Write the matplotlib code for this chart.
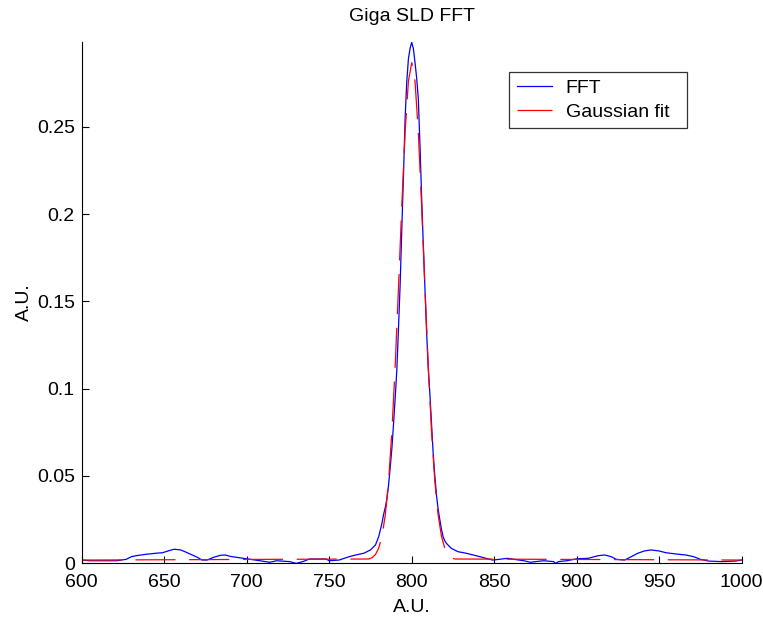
import numpy as np
import matplotlib
matplotlib.use('Agg')
import matplotlib.pyplot as plt

plt.rcParams['font.family'] = ['Liberation Sans', 'DejaVu Sans']

# FFT trace
fft_x = [600, 605, 621, 627, 630, 633, 639, 645, 649, 653, 656, 660, 663, 667,
         670, 673, 676, 680, 684, 687, 690, 698, 708, 714, 718, 726, 730, 734,
         738, 748, 750, 756, 762, 766, 771, 775, 778, 780,
         781, 782, 783, 784, 785, 786, 787, 788, 789, 790, 791, 792, 793, 794,
         795, 796, 797, 798, 799, 800, 801, 802, 803, 804, 805, 806, 807, 808,
         809, 810, 811, 812, 813, 814, 815, 816, 817, 818, 819, 820, 821,
         824, 828, 833, 839, 845, 849, 853, 858, 862, 868, 872, 875, 880, 886,
         887, 889, 894, 900, 907, 913, 917, 921, 924, 929, 933, 937, 941, 945,
         950, 954, 960, 966, 971, 975, 980, 988, 996, 1000]
fft_y = [0.0017, 0.0013, 0.0013, 0.0021, 0.0036, 0.0042, 0.0050, 0.0056, 0.0059,
         0.0071, 0.0079, 0.0075, 0.0063, 0.0046, 0.0033, 0.0017, 0.0017, 0.0033,
         0.0044, 0.0046, 0.0038, 0.0027, 0.0013, 0.0004, 0.0013, 0.0008, -0.0002,
         0.0008, 0.0023, 0.0023, 0.0013, 0.0017, 0.0036, 0.0046, 0.0056, 0.0075,
         0.0103, 0.0151,
         0.019, 0.023, 0.028, 0.032, 0.037, 0.045, 0.055, 0.066, 0.080, 0.095,
         0.111, 0.135, 0.160, 0.192, 0.222, 0.255, 0.276, 0.289, 0.295, 0.2985,
         0.295, 0.287, 0.278, 0.266, 0.240, 0.210, 0.183, 0.158, 0.133, 0.112,
         0.097, 0.080, 0.063, 0.050, 0.039, 0.031, 0.025, 0.0195, 0.0151, 0.0128,
         0.0113,
         0.0084, 0.0065, 0.0056, 0.0042, 0.0027, 0.0017, 0.0021, 0.0027, 0.0021,
         0.0013, 0.0004, 0.0008, 0.0013, 0.0008, -0.0002, 0.0008, 0.0013, 0.0024,
         0.0027, 0.0042, 0.0046, 0.0036, 0.0021, 0.0017, 0.0036, 0.0056, 0.0069,
         0.0075, 0.0069, 0.0059, 0.0052, 0.0046, 0.0036, 0.0021, 0.0011, 0.0008,
         0.0011, 0.0017]

# Gaussian fit trace
fit_x = [600, 774, 776, 778, 780, 782, 784, 786, 788, 790, 792, 794, 796, 798,
         800, 802, 804, 806, 808, 810, 812, 814, 816, 818, 820, 822, 824, 826, 1000]
fit_y = [0.0017, 0.0023, 0.0031, 0.0048, 0.0085, 0.0155, 0.0276, 0.0471, 0.0756,
         0.1133, 0.1582, 0.2051, 0.2471, 0.2763, 0.2868, 0.2763, 0.2471, 0.2051,
         0.1582, 0.1133, 0.0756, 0.0471, 0.0276, 0.0155, 0.0085, 0.0048, 0.0031,
         0.0023, 0.0017]

fig = plt.figure(figsize=(7.63, 6.17), dpi=100)
ax = fig.add_axes([0.1071, 0.0875, 0.865, 0.8444])

ax.plot(fft_x, fft_y, color='#0000ff', lw=0.9, label='FFT')
ax.plot(fit_x, fit_y, color='#ff0000', lw=0.9, dashes=(32, 11), label='Gaussian fit')

ax.set_xlim(600, 1000)
ax.set_ylim(0, 0.2987)
ax.set_xticks(np.arange(600, 1001, 50))
ax.set_yticks([0, 0.05, 0.1, 0.15, 0.2, 0.25])
ax.set_yticklabels(['0', '0.05', '0.1', '0.15', '0.2', '0.25'])
ax.tick_params(direction='in', length=5, labelsize=14, width=0.8)
ax.tick_params(axis='x', pad=8)
ax.tick_params(axis='y', pad=5)
ax.spines['top'].set_visible(False)
ax.spines['right'].set_visible(False)
ax.set_title('Giga SLD FFT', fontsize=14, pad=15)
ax.set_xlabel('A.U.', fontsize=14, labelpad=6)
ax.set_ylabel('A.U.', fontsize=14, labelpad=3)

# legend box spans about 178 px wide in the reference
leg = ax.legend(loc='upper left', bbox_to_anchor=(0.648, 0.943, 0.2697, 0.0),
                mode='expand', borderaxespad=0, fancybox=False, fontsize=14,
                handlelength=1.8, frameon=True, borderpad=0.4,
                labelspacing=0.3, handletextpad=0.7)
leg.get_frame().set_edgecolor('black')
leg.get_frame().set_linewidth(0.9)

plt.savefig('out.png', dpi=100)
